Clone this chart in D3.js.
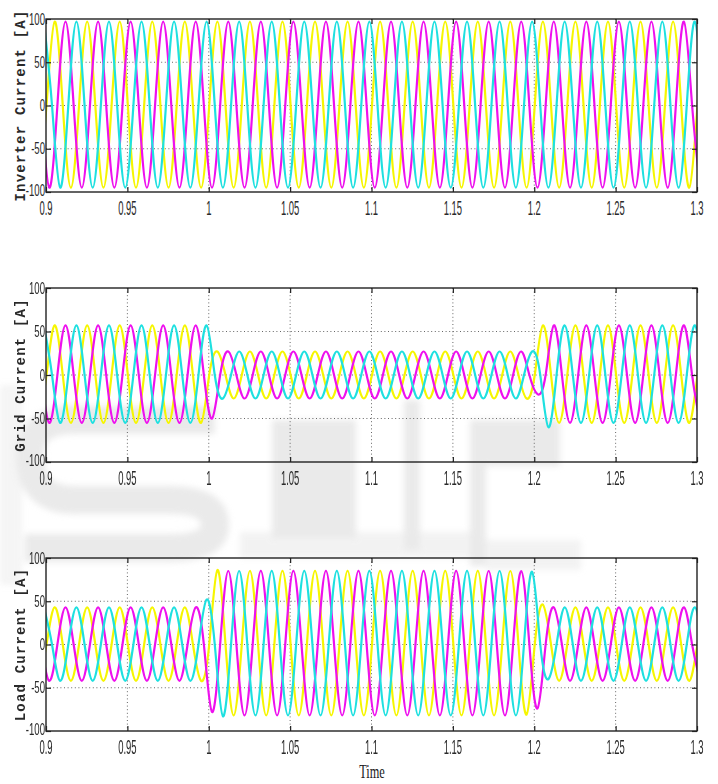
<!DOCTYPE html>
<html>
<head>
<meta charset="utf-8">
<script src="https://cdn.jsdelivr.net/npm/d3@7"></script>
<style>
  body { margin: 0; background: #fff; }
  svg { display: block; }
  .tick-label { font-family: 'Liberation Sans', Arial, sans-serif; fill: #2a2a2a; }
  .axis-title { font-family: 'Liberation Mono', 'Courier New', monospace; fill: #2a2a2a; }
  .time-title { font-family: 'Liberation Serif', 'Times New Roman', serif; fill: #222; }
</style>
</head>
<body>
<svg id="chart" width="718" height="784"></svg>
<script>
// axis ticks
const timeTicks = [0.9, 0.95, 1, 1.05, 1.1, 1.15, 1.2, 1.25, 1.3];
const timeTickLabels = ['0.9', '0.95', '1', '1.05', '1.1', '1.15', '1.2', '1.25', '1.3'];
const currentTicks = [-100, -50, 0, 50, 100];
const currentTickLabels = ['-100', '-50', '0', '50', '100'];

// phases a, b, c : time of the first peak / trough, then one extreme every half cycle (50 Hz)
const phases = ['a', 'b', 'c'];
const firstExtremeTime = [0.8953, 0.8920, 0.8987];
const halfCycle = 0.01;

// extreme values [A], one per half cycle
const inverterA = [
  -95, 97, -95, 97, -95, 97, -95, 97, -95, 97, -95, 97, -95, 97,
  -95, 97, -95, 97, -95, 97, -95, 97, -95, 97, -95, 97, -95, 97,
  -95, 97, -95, 97, -95, 97, -95, 97, -95, 97, -95, 97, -95, 97
];
const inverterB = [
  97, -95, 97, -95, 97, -95, 97, -95, 97, -95, 97, -95, 97, -95,
  97, -95, 97, -95, 97, -95, 97, -95, 97, -95, 97, -95, 97, -95,
  97, -95, 97, -95, 97, -95, 97, -95, 97, -95, 97, -95, 97, -95
];
const inverterC = [
  97, -95, 97, -95, 97, -95, 97, -95, 97, -95, 97, -95, 97, -95,
  97, -95, 97, -95, 97, -95, 97, -95, 97, -95, 97, -95, 97, -95,
  97, -95, 97, -95, 97, -95, 97, -95, 97, -95, 97, -95, 97, -95
];

const gridA = [
  -55, 57, -55, 57, -55, 57, -55, 57, -55, 57, -55,
  27, -27, 27, -27, 27, -27, 27, -27, 27, -27, 27, -27, 27, -27, 27, -27, 27, -27, 27, -27,
  57, -55, 57, -55, 57, -55, 57, -55, 57, -55, 57
];
const gridB = [
  57, -55, 57, -55, 57, -55, 57, -55, 57, -55, 57,
  -50,
  27, -27, 27, -27, 27, -27, 27, -27, 27, -27, 27, -27, 27, -27, 27, -27, 27, -27, 27,
  -22,
  57, -55, 57, -55, 57, -55, 57, -55, 57, -55
];
const gridC = [
  57, -55, 57, -55, 57, -55, 57, -55, 57, -55, 57,
  -27, 27, -27, 27, -27, 27, -27, 27, -27, 27, -27, 27, -27, 27, -27, 27, -27, 27, -27, 27,
  -60,
  57, -55, 57, -55, 57, -55, 57, -55, 57, -55
];

const loadA = [
  -42, 43, -42, 43, -42, 43, -42, 43, -42, 43, -42,
  86, -82, 85, -82, 85, -82, 85, -82, 85, -82, 85, -82, 85, -82, 85, -82, 85, -82, 85, -81,
  46, -42, 43, -42, 43, -42, 43, -42, 43, -42, 43
];
const loadB = [
  43, -42, 43, -42, 43, -42, 43, -42, 43, -42, 43,
  -78,
  85, -82, 85, -82, 85, -82, 85, -82, 85, -82, 85, -82, 85, -82, 85, -82, 85, -82, 85,
  -74,
  43, -42, 43, -42, 43, -42, 43, -42, 43, -42
];
const loadC = [
  43, -42, 43, -42, 43, -42, 43, -42, 43, -42,
  52,
  -83, 85, -82, 85, -82, 85, -82, 85, -82, 85, -82, 85, -82, 85, -82, 85, -82, 85, -82, 84,
  -40,
  43, -42, 43, -42, 43, -42, 43, -42, 43, -42
];

const phaseColors = { a: '#f6f600', b: '#ee10ee', c: '#1ee0e0' };

class CurrentPanel {
  constructor(_config) {
    this.config = {
      selection: _config.selection,
      top: _config.top,
      height: _config.height || 173,
      label: _config.label,
      series: _config.series,
    };
    this.margin = { left: 46, right: 21 };
    this.init();
  }

  init() {
    let vis = this;
    const h = vis.config.height;
    vis.width = 718 - vis.margin.left - vis.margin.right;

    vis.xScale = d3.scaleLinear().domain([0.9, 1.3]).range([0, vis.width]);
    vis.yScale = d3.scaleLinear().domain([-100, 100]).range([h, 0]);

    vis.g = d3.select(vis.config.selection).append('g')
      .attr('transform', `translate(${vis.margin.left},${vis.config.top})`);

    const clipId = 'clip-' + vis.config.top;
    vis.g.append('clipPath').attr('id', clipId)
      .append('rect').attr('width', vis.width).attr('height', h);

    // dotted grid
    const grid = vis.g.append('g')
      .attr('stroke', '#666')
      .attr('stroke-width', 1)
      .attr('stroke-dasharray', '1,2.6');
    grid.selectAll('.vgrid').data(timeTicks.slice(1, -1)).join('line')
      .attr('x1', d => vis.xScale(d)).attr('x2', d => vis.xScale(d))
      .attr('y1', 0).attr('y2', h);
    grid.selectAll('.hgrid').data(currentTicks.slice(1, -1)).join('line')
      .attr('x1', 0).attr('x2', vis.width)
      .attr('y1', d => vis.yScale(d)).attr('y2', d => vis.yScale(d));

    // traces
    const line = d3.line()
      .x(d => vis.xScale(d.t))
      .y(d => vis.yScale(d.v))
      .curve(d3.curveNatural);

    const traces = vis.g.append('g').attr('clip-path', `url(#${clipId})`);
    phases.forEach((p, i) => {
      traces.append('path')
        .datum(wavePoints(firstExtremeTime[i], vis.config.series[i]))
        .attr('fill', 'none')
        .attr('stroke', phaseColors[p])
        .attr('stroke-width', 2.2)
        .attr('d', line);
    });

    // inward ticks on all four sides
    const axes = [
      [d3.axisLeft(vis.yScale).tickValues(currentTicks), 0, 0],
      [d3.axisRight(vis.yScale).tickValues(currentTicks), vis.width, 0],
      [d3.axisTop(vis.xScale).tickValues(timeTicks), 0, 0],
      [d3.axisBottom(vis.xScale).tickValues(timeTicks), 0, h],
    ];
    axes.forEach(([axis, x, y]) => {
      const a = vis.g.append('g')
        .attr('transform', `translate(${x},${y})`)
        .call(axis.tickSize(-5).tickSizeOuter(0).tickFormat(''));
      a.select('.domain').remove();
      a.selectAll('line').attr('stroke', '#222').attr('stroke-width', 1.2);
    });

    vis.g.append('rect')
      .attr('width', vis.width).attr('height', h)
      .attr('fill', 'none')
      .attr('stroke', '#222')
      .attr('stroke-width', 1.4);

    // tick labels (narrow scope font)
    vis.g.selectAll('.ylab').data(currentTicks).join('text')
      .attr('class', 'tick-label')
      .attr('text-anchor', 'end')
      .attr('dy', '0.35em')
      .attr('font-size', 16)
      .attr('transform', d => `translate(-1,${vis.yScale(d) - (d === -100 ? 2 : 0)}) scale(0.6,1)`)
      .text((d, i) => currentTickLabels[i]);

    vis.g.selectAll('.xlab').data(timeTicks).join('text')
      .attr('class', 'tick-label')
      .attr('text-anchor', 'middle')
      .attr('font-size', 21)
      .attr('transform', d => `translate(${vis.xScale(d)},${h + 23}) scale(0.45,1)`)
      .text((d, i) => timeTickLabels[i]);

    vis.g.append('text')
      .attr('class', 'axis-title')
      .attr('text-anchor', 'middle')
      .attr('font-size', 14)
      .attr('font-weight', 'bold')
      .attr('letter-spacing', 1.2)
      .attr('transform', `translate(-21,${h / 2}) rotate(-90)`)
      .text(vis.config.label);
  }
}

// one point per read extreme, with the zero crossing between two extremes
function wavePoints(start, extremes) {
  const pts = [];
  extremes.forEach((v, k) => {
    const t = start + k * halfCycle;
    if (k > 0) pts.push({ t: t - halfCycle / 2, v: 0 });
    pts.push({ t, v });
  });
  return pts;
}

const svg = d3.select('#chart');

// faint watermark behind the scopes
const blur = svg.append('defs').append('filter').attr('id', 'soft');
blur.append('feGaussianBlur').attr('stdDeviation', 3);

const mark = svg.append('g')
  .attr('fill', '#d9d9d9')
  .attr('opacity', 0.55)
  .attr('filter', 'url(#soft)');
mark.append('path')
  .attr('fill', 'none')
  .attr('stroke', '#d9d9d9')
  .attr('stroke-width', 28)
  .attr('d', 'M215,420 L75,420 Q30,420 30,455 Q30,500 75,500 L170,500 Q215,500 215,525 Q215,548 170,548 L25,548');
mark.append('rect').attr('x', 0).attr('y', 385).attr('width', 22).attr('height', 200).attr('opacity', 0.5);
mark.append('rect').attr('x', 272).attr('y', 420).attr('width', 84).attr('height', 118);
mark.append('rect').attr('x', 240).attr('y', 532).attr('width', 240).attr('height', 26).attr('opacity', 0.6);
mark.append('rect').attr('x', 404).attr('y', 400).attr('width', 16).attr('height', 150);
mark.append('rect').attr('x', 470).attr('y', 420).attr('width', 90).attr('height', 46);
mark.append('rect').attr('x', 470).attr('y', 466).attr('width', 16).attr('height', 100);
mark.append('rect').attr('x', 486).attr('y', 540).attr('width', 95).attr('height', 30).attr('opacity', 0.6);

new CurrentPanel({ selection: '#chart', top: 19, label: 'Inverter Current [A]', series: [inverterA, inverterB, inverterC] });
new CurrentPanel({ selection: '#chart', top: 288, height: 174, label: 'Grid Current [A]', series: [gridA, gridB, gridC] });
new CurrentPanel({ selection: '#chart', top: 558, label: 'Load Current [A]', series: [loadA, loadB, loadC] });

svg.append('text')
  .attr('class', 'time-title')
  .attr('text-anchor', 'middle')
  .attr('font-size', 19)
  .attr('transform', 'translate(372,778) scale(0.65,1)')
  .text('Time');
</script>
</body>
</html>
